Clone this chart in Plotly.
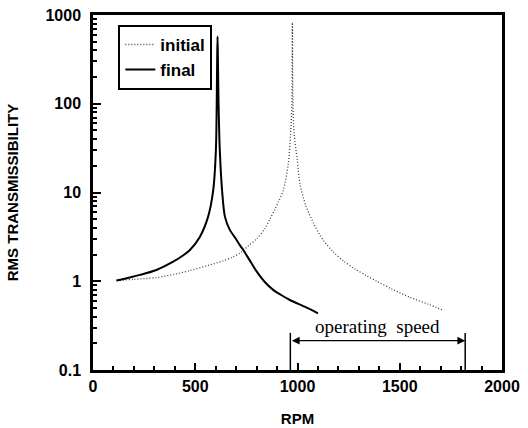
import math
import plotly.graph_objects as go

# ---- data ----
initial_rpm = [115, 200, 310, 400, 474, 560, 637, 680, 718, 735, 760, 800, 840, 865, 890, 906,
               930, 955, 966, 972, 975, 978, 984, 999, 1012, 1040, 1077, 1110, 1130, 1175,
               1224, 1280, 1339, 1388, 1460, 1550, 1640, 1714]
initial_T = [1.02, 1.05, 1.10, 1.20, 1.32, 1.50, 1.70, 1.86, 2.07, 2.24, 2.51, 3.0, 3.9, 5.0,
             6.5, 7.8, 10.5, 21, 45, 90, 822, 90, 45, 23, 12.6, 7.2, 4.57, 3.31, 2.82, 2.14,
             1.70, 1.38, 1.15, 1.0, 0.82, 0.66, 0.55, 0.47]

final_rpm = [115, 170, 230, 310, 392, 440, 474, 523, 563, 588, 601, 605, 607, 609, 611, 614,
             620, 632, 645, 669, 695, 718, 735, 765, 800, 840, 881, 920, 963, 1040, 1100]
final_T = [1.02, 1.09, 1.18, 1.34, 1.66, 1.95, 2.25, 3.18, 5.35, 10.7, 30, 100, 300, 573, 300,
           100, 30, 10, 5.35, 3.79, 3.09, 2.55, 2.25, 1.74, 1.29, 0.98, 0.80, 0.70, 0.615, 0.51,
           0.435]

operating_speed = [965, 1820]          # RPM range of the operating speed bracket
bracket_top = 0.262                    # top of bracket's vertical lines (transmissibility)
bracket_arrow = 0.214                  # level of the double arrow
bracket_label = 0.313                  # level of the label

x_ticks = [0, 500, 1000, 1500, 2000]
y_ticks = [0.1, 1, 10, 100, 1000]
y_ticktext = ["0.1", "1", "10", "100", "1000"]

SANS = "Liberation Sans, Arial, sans-serif"
BOLD = dict(family=SANS, size=16, color="black", weight="bold")

fig = go.Figure()
fig.add_trace(go.Scatter(x=initial_rpm, y=initial_T, mode="lines", name="initial",
                         line=dict(color="#444444", width=1.3, dash="1px,2px",
                                   shape="spline", smoothing=0.8)))
fig.add_trace(go.Scatter(x=final_rpm, y=final_T, mode="lines", name="final",
                         line=dict(color="black", width=2, shape="spline", smoothing=0.8)))

for xv in operating_speed:
    fig.add_trace(go.Scatter(x=[xv, xv], y=[0.1, bracket_top], mode="lines",
                             line=dict(color="black", width=1.5), showlegend=False,
                             hoverinfo="skip"))

fig.add_annotation(x=operating_speed[1], y=math.log10(bracket_arrow),
                   ax=operating_speed[0], ay=math.log10(bracket_arrow),
                   xref="x", yref="y", axref="x", ayref="y", text="",
                   showarrow=True, arrowside="end+start", arrowhead=2,
                   arrowsize=1.2, arrowwidth=1.3, arrowcolor="black")
fig.add_annotation(x=(operating_speed[0] + operating_speed[1]) / 2,
                   y=math.log10(bracket_label), xref="x", yref="y",
                   text="operating\u00a0\u00a0speed", showarrow=False,
                   font=dict(family="Liberation Serif, Times New Roman, serif", size=19,
                             color="black"))

fig.update_layout(
    width=528, height=428,
    margin=dict(l=93, r=26, t=15, b=58),
    paper_bgcolor="white", plot_bgcolor="white",
    showlegend=True,
    legend=dict(x=0.062, y=0.972, xanchor="left", yanchor="top",
                bordercolor="black", borderwidth=2, bgcolor="white",
                font=dict(family=SANS, size=17, color="black", weight="bold"),
                itemwidth=30, tracegroupgap=0),
)
fig.update_xaxes(
    range=[0, 2000], tickvals=x_ticks, ticks="inside", ticklen=7, tickwidth=1.5,
    tickcolor="black", showline=True, linewidth=2.5, linecolor="black", mirror=True,
    showgrid=False, zeroline=False, tickfont=BOLD, automargin=False,
    minor=dict(dtick=100, ticks="inside", ticklen=4, tickcolor="black", showgrid=False),
    title=dict(text="RPM", font=dict(family=SANS, size=15, color="black", weight="bold"),
               standoff=20),
)
fig.update_yaxes(
    type="log", range=[-1, 3], tickvals=y_ticks, ticktext=y_ticktext,
    ticks="inside", ticklen=8, tickwidth=1.5, tickcolor="black",
    showline=True, linewidth=2.5, linecolor="black", mirror=True,
    showgrid=False, zeroline=False, tickfont=BOLD, ticklabelstandoff=6, automargin=False,
    minor=dict(dtick="D1", ticks="inside", ticklen=4, tickcolor="black", showgrid=False),
    title=dict(text="RMS TRANSMISSIBILITY",
               font=dict(family=SANS, size=15, color="black", weight="bold"), standoff=24),
)

fig.write_html("out.html")
